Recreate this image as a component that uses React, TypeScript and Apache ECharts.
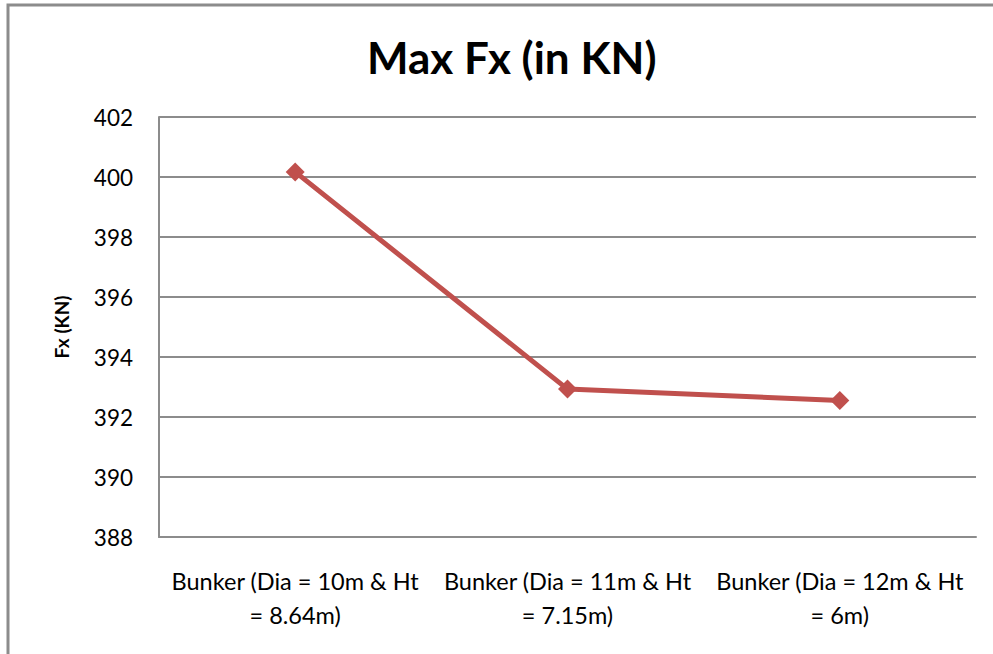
import React, { useEffect, useRef } from "react";
import * as echarts from "echarts";

const categories = [
  "Bunker (Dia = 10m & Ht\n= 8.64m)",
  "Bunker (Dia = 11m & Ht\n= 7.15m)",
  "Bunker (Dia = 12m & Ht\n= 6m)",
];
const maxFx = [400.17, 392.93, 392.55];
const yMin = 388;
const yMax = 402;
const yStep = 2;

const FONT = "Lato, 'Open Sans', sans-serif";

export default function App() {
  const ref = useRef<HTMLDivElement>(null);

  useEffect(() => {
    if (!ref.current) return;
    const chart = echarts.init(ref.current, undefined, { renderer: "svg" });
    chart.setOption({
      animation: false,
      backgroundColor: "#ffffff",
      title: {
        text: "Max Fx (in KN)",
        left: 362,
        top: 30,
        textStyle: { fontFamily: FONT, fontSize: 44, fontWeight: "bold", color: "#000" },
      },
      graphic: [
        {
          type: "rect",
          shape: { x: 8, y: 5, width: 1200, height: 900 },
          style: { fill: "none", stroke: "#8c8c8c", lineWidth: 3 },
          silent: true,
        },
      ],
      grid: { left: 159, right: 17, top: 117, bottom: 117 },
      xAxis: {
        type: "category",
        data: categories,
        boundaryGap: true,
        axisLine: { show: true, lineStyle: { color: "#8c8c8c", width: 2 } },
        axisTick: { show: false },
        axisLabel: {
          interval: 0,
          margin: 27,
          fontFamily: FONT,
          fontSize: 23.5,
          lineHeight: 34,
          color: "#000",
        },
      },
      yAxis: {
        type: "value",
        min: yMin,
        max: yMax,
        interval: yStep,
        name: "Fx (KN)",
        nameLocation: "middle",
        nameGap: 88,
        nameRotate: 90,
        nameTextStyle: { fontFamily: FONT, fontSize: 19, fontWeight: "bold", color: "#000" },
        axisLine: { show: true, lineStyle: { color: "#8c8c8c", width: 2 } },
        axisTick: { show: false },
        splitLine: { show: true, lineStyle: { color: "#8c8c8c", width: 2 } },
        axisLabel: { margin: 26, fontFamily: FONT, fontSize: 22.5, color: "#000" },
      },
      series: [
        {
          type: "line",
          data: maxFx,
          symbol: "diamond",
          symbolSize: 19,
          lineStyle: { color: "#c0504d", width: 5 },
          itemStyle: { color: "#c0504d" },
        },
      ],
    });
    return () => chart.dispose();
  }, []);

  return (
    <div
      ref={ref}
      style={{ position: "fixed", left: 0, top: 0, width: 993, height: 654 }}
    />
  );
}
